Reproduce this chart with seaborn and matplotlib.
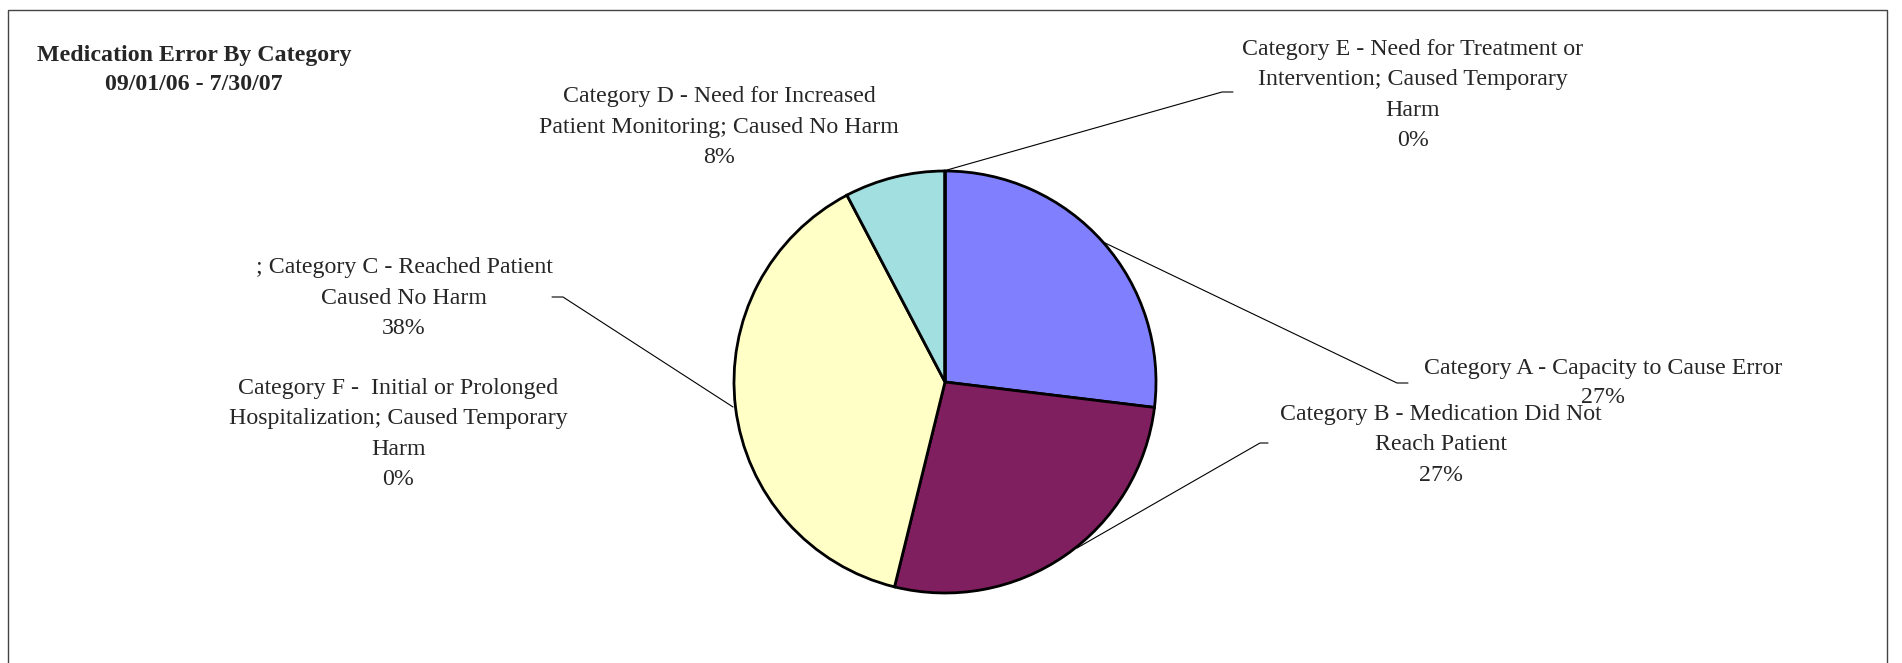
import matplotlib
matplotlib.use("Agg")
import matplotlib.pyplot as plt
import matplotlib.patches as mpatches
from matplotlib.transforms import Bbox
import seaborn as sns

# counts of medication errors per category (slices go clockwise from 12 o'clock)
categories = ["Category A - Capacity to Cause Error",
              "Category B - Medication Did Not Reach Patient",
              "Category C - Reached Patient; Caused No Harm",
              "Category D - Need for Increased Patient Monitoring; Caused No Harm",
              "Category E - Need for Treatment or Intervention; Caused Temporary Harm",
              "Category F - Initial or Prolonged Hospitalization; Caused Temporary Harm"]
counts = [7, 7, 10, 2, 0, 0]
colors = ["#8080FF", "#7F1F5F", "#FFFFC6", "#A2DFE0", "#FFFFFF", "#FFFFFF"]
pct_labels = ["27%", "27%", "38%", "8%", "0%", "0%"]

sns.set_style("white")
plt.rcParams["font.family"] = ["Liberation Serif", "DejaVu Serif"]

W, H = 1902, 663
fig = plt.figure(figsize=(W / 100, H / 100), dpi=100)
ax = fig.add_axes([0, 0, 1, 1])


def py(y):
    # pixel row (from top) -> data y (from bottom)
    return H - y


ax.pie(counts, colors=colors, center=(945, py(382)), radius=211,
       startangle=90, counterclock=False,
       wedgeprops=dict(edgecolor="black", linewidth=2.0))
ax.set_xlim(0, W)
ax.set_ylim(0, H)
ax.set_aspect("equal")
ax.axis("off")

# outer chart frame
ax.add_patch(mpatches.Rectangle((8, py(700)), 1879, 690, fill=False,
                                edgecolor="#444444", linewidth=1.0, clip_on=False))

# title
ax.text(194, py(70), "Medication Error By Category\n09/01/06 - 7/30/07",
        ha="center", va="center", fontsize=17.2, fontweight="bold",
        linespacing=1.55)

fs = 17.2
lab = dict(ha="center", va="center", fontsize=fs, linespacing=1.57)

# labels
ax.text(1413, py(95), "Category E - Need for Treatment or\nIntervention; Caused Temporary\nHarm\n" + pct_labels[4],
        clip_on=True, clip_box=Bbox([[0, 0], [1582, H]]), **lab)
ax.text(719, py(127), "Category D - Need for Increased\nPatient Monitoring; Caused No Harm\n" + pct_labels[3], **lab)
ax.text(404, py(298), "; Category C - Reached Patient\nCaused No Harm\n" + pct_labels[2], **lab)
ax.text(398, py(434), "Category F -  Initial or Prolonged\nHospitalization; Caused Temporary\nHarm\n" + pct_labels[5],
        clip_on=True, clip_box=Bbox([[0, 0], [566, H]]), **lab)
ax.text(1603, py(383), "Category A - Capacity to Cause Error\n" + pct_labels[0],
        ha="center", va="center", fontsize=fs, linespacing=1.5)
ax.text(1441, py(445), "Category B - Medication Did Not\nReach Patient\n" + pct_labels[1], **lab)

# leader lines
leaders = [
    [(947, 170), (1222, 92), (1233, 92)],   # E
    [(733, 407), (563, 297), (552, 297)],   # C
    [(1103, 242), (1397, 383), (1408, 383)],  # A
    [(1077, 548), (1260, 443), (1268, 443)],  # B
]
for pts in leaders:
    xs = [p[0] for p in pts]
    ys = [py(p[1]) for p in pts]
    ax.plot(xs, ys, color="black", linewidth=0.8, zorder=0.5)

fig.savefig("out.png", dpi=100)
